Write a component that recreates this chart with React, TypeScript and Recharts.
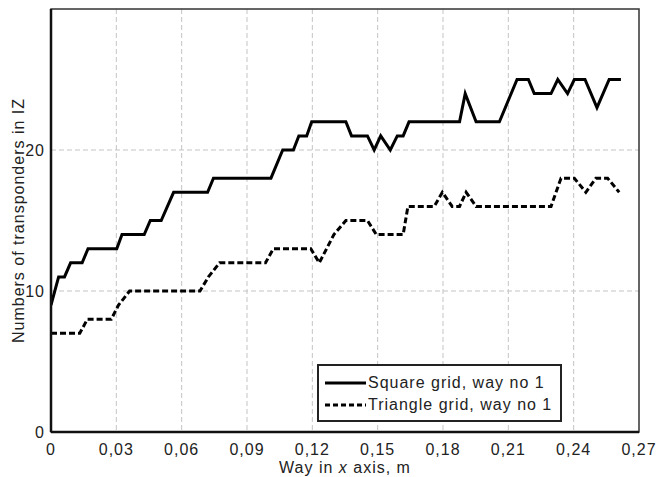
import React from "react";
import {
  LineChart,
  Line,
  XAxis,
  YAxis,
  CartesianGrid,
  Legend,
  ReferenceArea,
} from "recharts";

// Square grid, way no 1 (vertices)
const squareX = [
  0, 0.0035, 0.0062, 0.009, 0.0143, 0.017, 0.0302, 0.0326, 0.0428, 0.0456,
  0.0506, 0.0563, 0.0719, 0.0746, 0.101, 0.1064, 0.1113, 0.1138, 0.1174,
  0.1197, 0.1354, 0.138, 0.1453, 0.1484, 0.1514, 0.1558, 0.159, 0.1617,
  0.1644, 0.1876, 0.1902, 0.1952, 0.2059, 0.214, 0.2192, 0.2219, 0.2296,
  0.2327, 0.2372, 0.2403, 0.2452, 0.2507, 0.2563, 0.2617,
];
const squareY = [
  9, 11, 11, 12, 12, 13, 13, 14, 14, 15, 15, 17, 17, 18, 18, 20, 20, 21, 21,
  22, 22, 21, 21, 20, 21, 20, 21, 21, 22, 22, 24, 22, 22, 25, 25, 24, 24, 25,
  24, 25, 25, 23, 25, 25,
];

// Triangle grid, way no 1
const triangleX = [
  0, 0.0132, 0.0167, 0.0277, 0.031, 0.0361, 0.0684, 0.0723, 0.0774, 0.0985,
  0.1021, 0.1193, 0.1232, 0.1299, 0.1354, 0.1453, 0.1494, 0.1617, 0.1639,
  0.176, 0.1797, 0.1842, 0.1876, 0.1906, 0.1952, 0.2296, 0.2342, 0.2403,
  0.2456, 0.2502, 0.2556, 0.2609,
];
const triangleY = [
  7, 7, 8, 8, 9, 10, 10, 11, 12, 12, 13, 13, 12, 14, 15, 15, 14, 14, 16, 16,
  17, 16, 16, 17, 16, 16, 18, 18, 17, 18, 18, 17,
];

const xTicks = [0, 0.03, 0.06, 0.09, 0.12, 0.15, 0.18, 0.21, 0.24, 0.27];
const yTicks = [0, 10, 20];

const squareData = squareX.map((x, i) => ({ x, y: squareY[i] }));
const triangleData = triangleX.map((x, i) => ({ x, y: triangleY[i] }));

const FONT = "'Liberation Sans', Arial, sans-serif";

const fmtX = (v: number) => (v === 0 ? "0" : v.toFixed(2).replace(".", ","));

const XLabel = (props: any) => {
  const { viewBox } = props;
  const cx = viewBox.x + viewBox.width / 2;
  return (
    <text
      x={cx}
      y={viewBox.y + 41}
      textAnchor="middle"
      fontSize={16}
      fontFamily={FONT}
      letterSpacing={1}
      fill="#222"
    >
      Way in <tspan fontStyle="italic">x</tspan> axis, m
    </text>
  );
};

const YLabel = (props: any) => {
  const { viewBox } = props;
  const x = viewBox.x + 16;
  const y = viewBox.y + viewBox.height / 2;
  return (
    <text
      x={x}
      y={y}
      transform={`rotate(-90 ${x} ${y})`}
      textAnchor="middle"
      fontSize={16}
      fontFamily={FONT}
      letterSpacing={1}
      fill="#222"
    >
      Numbers of transponders in IZ
    </text>
  );
};

const LegendBox = () => (
  <div
    style={{
      border: "2px solid #222",
      background: "#fff",
      width: 241,
      height: 54,
      boxSizing: "content-box",
      fontFamily: FONT,
      fontSize: 16,
      letterSpacing: 1,
      color: "#222",
    }}
  >
    {[
      { name: "Square grid, way no 1", dash: undefined },
      { name: "Triangle grid, way no 1", dash: "5 3" },
    ].map((item, i) => (
      <div
        key={i}
        style={{ display: "flex", alignItems: "center", height: 22, marginTop: i === 0 ? 6 : 0 }}
      >
        <svg width={44} height={10} style={{ marginLeft: 5 }}>
          <line
            x1={1}
            y1={5}
            x2={42}
            y2={5}
            stroke="#000"
            strokeWidth={3}
            strokeDasharray={item.dash}
          />
        </svg>
        <span>{item.name}</span>
      </div>
    ))}
  </div>
);

export default function App() {
  return (
    <div
      style={{
        position: "absolute",
        left: 0,
        top: 0,
        width: 660,
        height: 477,
        overflow: "hidden",
        background: "#fff",
      }}
    >
      <LineChart
        width={660}
        height={477}
        margin={{ top: 9, right: 21, bottom: 0, left: 8 }}
        style={{ fontFamily: FONT }}
      >
        <CartesianGrid
          stroke="#c4c4c4"
          strokeDasharray="5 3"
          verticalValues={xTicks.slice(1, -1)}
          horizontalValues={yTicks.slice(1)}
        />
        <XAxis
          dataKey="x"
          type="number"
          domain={[0, 0.27]}
          ticks={xTicks}
          tickFormatter={fmtX}
          allowDataOverflow
          tickLine={false}
          axisLine={{ stroke: "#111", strokeWidth: 2.5 }}
          tick={{ fontSize: 16, fill: "#222", letterSpacing: 1, dy: 4 }}
          height={45}
          label={<XLabel />}
        />
        <YAxis
          dataKey="y"
          type="number"
          domain={[0, 30]}
          ticks={yTicks}
          tickLine={false}
          axisLine={{ stroke: "#111", strokeWidth: 2.5 }}
          tick={{ fontSize: 16, fill: "#222", letterSpacing: 1, dx: 2 }}
          width={43}
          label={<YLabel />}
        />
        <ReferenceArea
          x1={0}
          x2={0.27}
          y1={0}
          y2={30}
          fill="none"
          stroke="#333"
          strokeWidth={1.5}
          ifOverflow="visible"
        />
        <Line
          data={squareData}
          dataKey="y"
          name="Square grid, way no 1"
          type="linear"
          stroke="#000"
          strokeWidth={3}
          dot={false}
          isAnimationActive={false}
        />
        <Line
          data={triangleData}
          dataKey="y"
          name="Triangle grid, way no 1"
          type="linear"
          stroke="#000"
          strokeWidth={3}
          strokeDasharray="6 3"
          dot={false}
          isAnimationActive={false}
        />
        <Legend
          layout="vertical"
          align="center"
          verticalAlign="middle"
          content={<LegendBox />}
          wrapperStyle={{ left: 317, top: 364, width: 245, height: 58 }}
        />
      </LineChart>
    </div>
  );
}
